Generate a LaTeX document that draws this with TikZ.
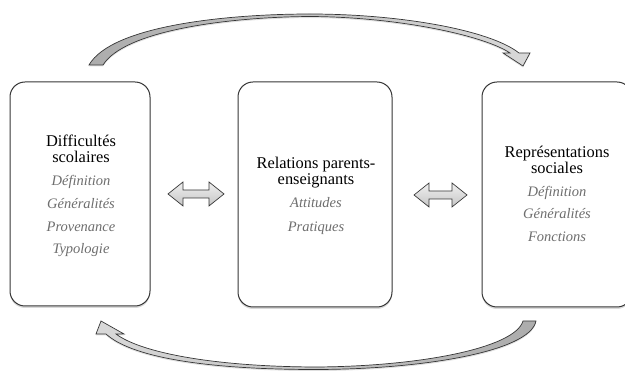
\documentclass[tikz,border=0pt]{standalone}
\usepackage{fontspec}
\setmainfont{Liberation Serif}
\usetikzlibrary{shadows}
\definecolor{edgegray}{HTML}{363636}
\definecolor{itemgray}{HTML}{6E6E6E}
\tikzset{
  box/.style={draw=edgegray, line width=1pt, rounded corners=15pt, fill=white,
    inner sep=0pt, drop shadow={shadow xshift=0pt, shadow yshift=-2pt, opacity=0.3}},
  titletext/.style={anchor=base, inner sep=0pt, text=black, font=\fontsize{16.4}{16}\selectfont},
  itemtext/.style={anchor=base, inner sep=0pt, text=itemgray, font=\fontsize{14.5}{16}\selectfont\itshape},
  dblarrow/.style={draw=edgegray, line width=0.7pt, top color=gray!12, bottom color=gray!45, line join=miter},
  bigarrow/.style={draw=edgegray, line width=0.7pt, line join=miter,
    drop shadow={shadow xshift=0pt, shadow yshift=-1.5pt, opacity=0.25}}
}
\begin{document}
\begin{tikzpicture}[x=1pt,y=-1pt]
\useasboundingbox (0,0) rectangle (625,371);
\clip (0,0) rectangle (625,371);

% boxes
\node[box, minimum width=140pt, minimum height=224pt] (b1) at (80,194) {};
\node[box, minimum width=154pt, minimum height=225pt] (b2) at (315,194.5) {};
\node[box, minimum width=150pt, minimum height=225pt] (b3) at (557,194.5) {};

% box 1 text
\node[titletext] (t1a) at (81,147) {Difficultés};
\node[titletext] (t1b) at (81,163) {scolaires};
\node[itemtext] (i1a) at (81,186) {Définition};
\node[itemtext] (i1b) at (81,209) {Généralités};
\node[itemtext] (i1c) at (81,232) {Provenance};
\node[itemtext] (i1d) at (81,254) {Typologie};

% box 2 text
\node[titletext] (t2a) at (316,169) {Relations parents-};
\node[titletext] (t2b) at (316,185) {enseignants};
\node[itemtext] (i2a) at (316,208) {Attitudes};
\node[itemtext] (i2b) at (316,232) {Pratiques};

% box 3 text
\node[titletext] (t3a) at (557,158) {Représentations};
\node[titletext] (t3b) at (557,174) {sociales};
\node[itemtext] (i3a) at (557,197) {Définition};
\node[itemtext] (i3b) at (557,219) {Généralités};
\node[itemtext] (i3c) at (557,242) {Fonctions};

% double arrows
\path[dblarrow] (168,194) -- (183,182) -- (183,190) -- (209,190) -- (209,182) -- (224,194)
  -- (209,206) -- (209,198) -- (183,198) -- (183,206) -- cycle;
\path[dblarrow] (414,195) -- (429,183) -- (429,191) -- (452,191) -- (452,183) -- (467,195)
  -- (452,207) -- (452,199) -- (429,199) -- (429,207) -- cycle;

% top curved arrow
\path[bigarrow, left color=gray!65, right color=gray!30]
  (89,65) .. controls (112,25) and (230,14) .. (310,14)
  .. controls (400,14) and (490,30) .. (519,53)
  -- (530,53) -- (523,66) -- (503,53) -- (510,53)
  .. controls (485,36) and (400,17) .. (310,16.5)
  .. controls (230,17) and (125,30) .. (103,65) -- cycle;

% bottom curved arrow
\path[bigarrow, left color=gray!30, right color=gray!65]
  (523,321) -- (536,321)
  .. controls (530,352) and (420,369.5) .. (315,369.5)
  .. controls (200,369.5) and (130,356) .. (106,334)
  -- (96,334) -- (101,321) -- (124,334) -- (116,334)
  .. controls (140,352) and (210,366.5) .. (315,367)
  .. controls (420,366.5) and (515,348) .. (523,321) -- cycle;
\end{tikzpicture}
\end{document}
